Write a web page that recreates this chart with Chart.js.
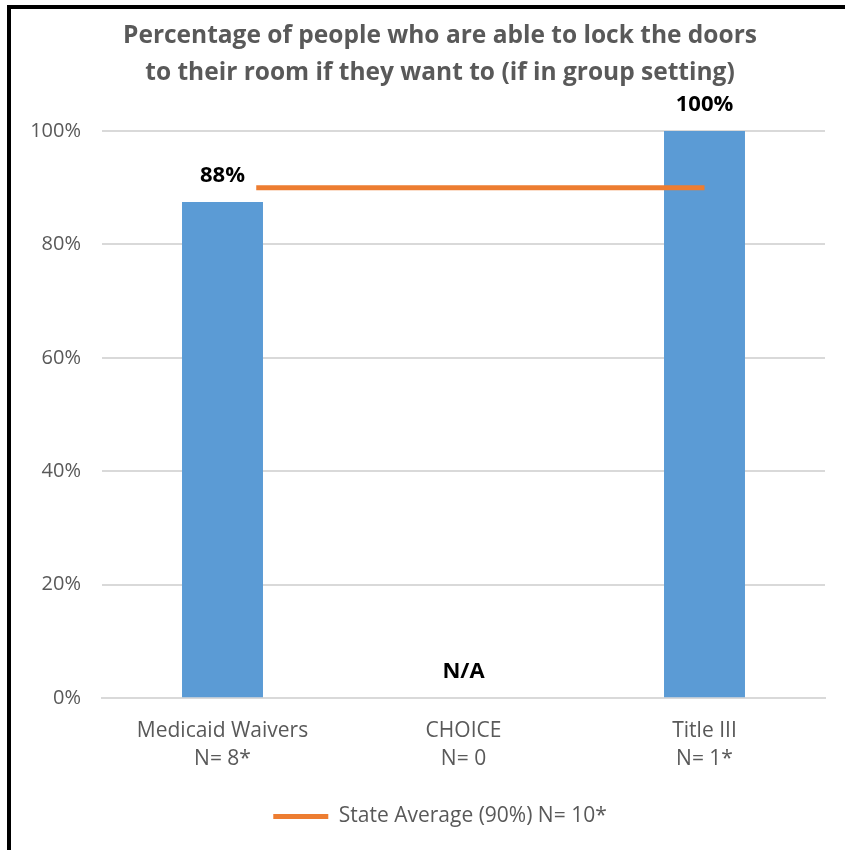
<!DOCTYPE html>
<html>
<head>
<meta charset="utf-8">
<script src="https://cdn.jsdelivr.net/npm/chart.js@4.4.1/dist/chart.umd.min.js"></script>
<style>
    html, body { margin: 0; padding: 0; background: #fff; }
    #wrap { position: relative; width: 845px; height: 850px; }
    #frame { position: absolute; left: 7px; top: 5px; right: 0; bottom: 0;
             border-left: 4px solid #000; border-top: 4px solid #000; pointer-events: none; }
</style>
</head>
<body>
<div id="wrap">
    <canvas id="chart" width="845" height="850"></canvas>
    <div id="frame"></div>
</div>
<script>
// chart data
const categories = [['Medicaid Waivers', 'N= 8*'], ['CHOICE', 'N= 0'], ['Title III', 'N= 1*']];
const groupValues = [87.5, null, 100];
const groupLabels = ['88%', 'N/A', '100%'];
const stateAvgLabel = 'State Average (90%) N= 10*';
const stateAvgValue = 90;
const stateAvgFrom = 0.14;   // category units, where the Excel line starts
const stateAvgTo = 2;
const yTicks = [0, 20, 40, 60, 80, 100];

const FONT = '"Open Sans", sans-serif';
const GREY = '#595959';

// draws the bold value labels above each bar (N/A sits on the baseline)
const barLabels = {
    id: 'barLabels',
    afterDatasetsDraw(chart) {
        const ctx = chart.ctx;
        const x = chart.scales.x;
        const y = chart.scales.y;
        ctx.save();
        ctx.font = 'bold 22px ' + FONT;
        ctx.fillStyle = '#000';
        ctx.textAlign = 'center';
        ctx.textBaseline = 'middle';
        groupValues.forEach((v, i) => {
            const top = y.getPixelForValue(v === null ? 0 : v);
            ctx.fillText(groupLabels[i], x.getPixelForValue(i), top - 26);
        });
        ctx.restore();
    }
};

new Chart(document.getElementById('chart'), {
    data: {
        labels: categories,
        datasets: [
            {
                type: 'bar',
                label: 'groups',
                data: groupValues,
                xAxisID: 'x',
                backgroundColor: '#5B9BD5',
                grouped: false,
                categoryPercentage: 1,
                barPercentage: 0.336,
                order: 2
            },
            {
                type: 'line',
                label: stateAvgLabel,
                data: [{ x: stateAvgFrom, y: stateAvgValue }, { x: stateAvgTo, y: stateAvgValue }],
                xAxisID: 'xl',
                borderColor: '#ED7D31',
                backgroundColor: '#ED7D31',
                borderWidth: 5,
                pointRadius: 0,
                order: 1
            }
        ]
    },
    options: {
        responsive: false,
        animation: false,
        layout: { padding: { left: 55, right: 20, top: 0, bottom: 13 } },
        plugins: {
            title: {
                display: true,
                text: ['Percentage of people who are able to lock the doors',
                       'to their room if they want to (if in group setting)'],
                color: GREY,
                font: { family: FONT, size: 24.5, weight: 'bold', lineHeight: 1.51 },
                padding: { top: 18, bottom: 39 }
            },
            legend: {
                position: 'bottom',
                labels: {
                    color: GREY,
                    font: { family: FONT, size: 21 },
                    boxWidth: 55,
                    boxHeight: 5,
                    padding: 22,
                    generateLabels: chart => [{
                        text: stateAvgLabel,
                        fillStyle: '#ED7D31',
                        strokeStyle: '#ED7D31',
                        fontColor: GREY,
                        lineWidth: 0,
                        datasetIndex: 1
                    }]
                }
            },
            tooltip: { enabled: false }
        },
        scales: {
            x: {
                type: 'category',
                grid: { display: false },
                border: { color: '#d9d9d9', width: 2 },
                ticks: { color: GREY, font: { family: FONT, size: 21, lineHeight: 1.33 }, padding: 11 }
            },
            xl: {
                type: 'linear',
                display: false,
                min: -0.5,
                max: 2.5
            },
            y: {
                min: 0,
                max: 100,
                afterBuildTicks: axis => { axis.ticks = yTicks.map(v => ({ value: v })); },
                afterFit: axis => {
                    axis.width = 47;
                    // labels are wider than the axis box, don't clip them to it
                    axis._computeLabelArea = () => undefined;
                },
                grid: { color: '#d9d9d9', lineWidth: 2, drawTicks: false },
                border: { display: false },
                ticks: {
                    color: GREY,
                    font: { family: FONT, size: 20 },
                    padding: 21,
                    callback: v => v + '%'
                }
            }
        }
    },
    plugins: [barLabels]
});
</script>
</body>
</html>
